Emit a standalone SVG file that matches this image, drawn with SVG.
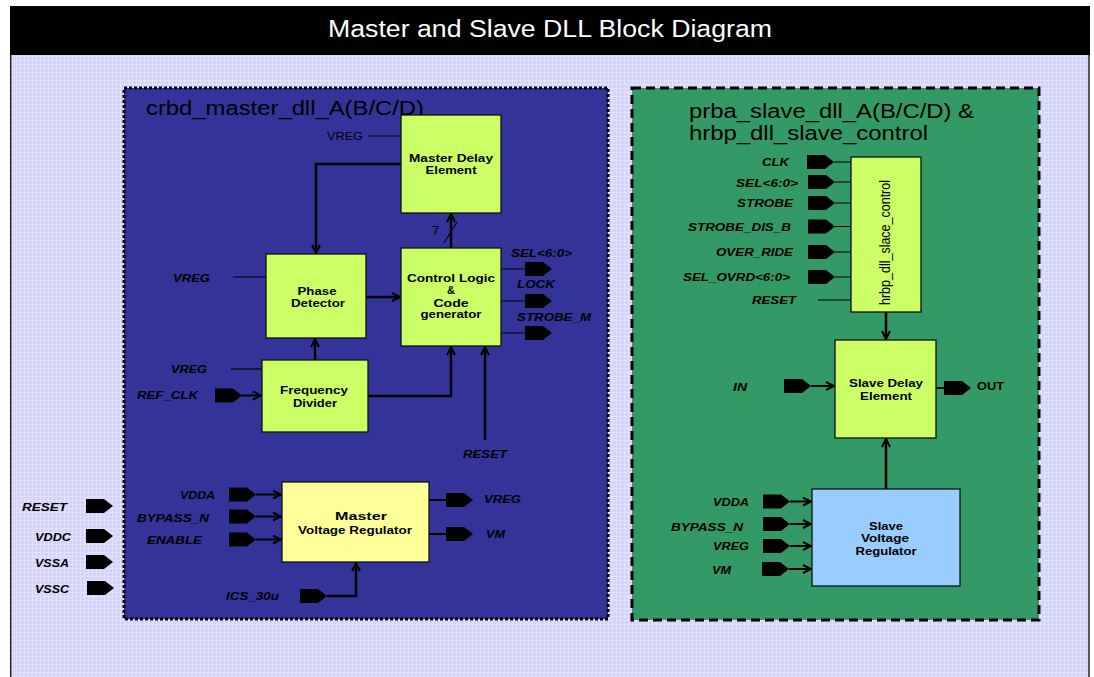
<svg xmlns="http://www.w3.org/2000/svg" width="1094" height="677" viewBox="0 0 1094 677">
  <style>
    text { font-family: "Liberation Sans", Arial, sans-serif; fill: #000; }
    .head { font-size: 23px; fill: #fff; }
    .group-title { font-size: 20px; }
    .pin { font-size: 11px; font-weight: bold; font-style: italic; }
    .pin-up { font-size: 11px; font-weight: bold; }
    .plain { font-size: 11px; }
    .bus { font-size: 13px; }
    .blk { font-size: 11px; font-weight: bold; text-anchor: middle; }
    .vert { font-size: 14px; text-anchor: middle; }
    .box { stroke: #111; stroke-width: 1.3; }
    .green { fill: #ccff66; }
    .yellow { fill: #ffff99; }
    .blue { fill: #99ccff; }
    .wire { fill: none; stroke: #000; stroke-width: 2.5; }
    .thin { fill: none; stroke: #000; stroke-width: 1.2; }
    .feed { fill: none; stroke: #000; stroke-width: 2; }
  </style>
  <defs>
    <pattern id="grid" width="4" height="4" patternUnits="userSpaceOnUse">
      <rect width="4" height="4" fill="#d3d3fd"/>
      <path d="M0,0.5 H4 M0.5,0 V4" stroke="#e2e2ff" stroke-width="1"/>
    </pattern>
    <path id="port" d="M0,0 H18 L27,7 L18,14 H0 Z" fill="#000"/>
    <marker id="arr" viewBox="0 0 10 10" refX="9" refY="5" markerWidth="10" markerHeight="10" markerUnits="userSpaceOnUse" orient="auto">
      <path d="M1,1 L9,5 L1,9" fill="none" stroke="#000" stroke-width="2"/>
    </marker>
  </defs>

  <!-- page -->
  <rect width="1094" height="677" fill="#fff"/>
  <rect x="10" y="55" width="1080" height="622" fill="url(#grid)"/>
  <line x1="10.7" y1="55" x2="10.7" y2="677" stroke="#222" stroke-width="1.5"/>
  <line x1="1089" y1="55" x2="1089" y2="677" stroke="#555" stroke-width="2"/>
  <rect x="10" y="6" width="1080" height="49" fill="#000"/>
  <text class="head" x="328" y="37" textLength="444" lengthAdjust="spacingAndGlyphs">Master and Slave DLL Block Diagram</text>

  <!-- enclosing blocks -->
  <g id="master-dll">
    <rect x="124" y="88" width="484" height="531" fill="#333399" stroke="#000" stroke-width="3" stroke-dasharray="3 2"/>
    <text class="group-title" x="146" y="115" textLength="278" lengthAdjust="spacingAndGlyphs">crbd_master_dll_A(B/C/D)</text>
  </g>
  <g id="slave-dll">
    <rect x="632" y="88" width="407" height="532" fill="#339966" stroke="#000" stroke-width="3" stroke-dasharray="9 5"/>
    <text class="group-title" x="689" y="118" textLength="285" lengthAdjust="spacingAndGlyphs">prba_slave_dll_A(B/C/D) &amp;</text>
    <text class="group-title" x="689" y="140" textLength="239" lengthAdjust="spacingAndGlyphs">hrbp_dll_slave_control</text>
  </g>

  <!-- connectors -->
  <g id="connectors">
    <!-- master loop -->
    <path class="wire" d="M401,164 H316 V253" marker-end="url(#arr)"/>
    <path class="wire" d="M451,248 V214" marker-end="url(#arr)"/>
    <line x1="444" y1="243" x2="457" y2="222" stroke="#000" stroke-width="1.2"/>
    <path class="wire" d="M366,297 H400" marker-end="url(#arr)"/>
    <path class="wire" d="M315,360 V339" marker-end="url(#arr)"/>
    <path class="wire" d="M368,396 H451 V347" marker-end="url(#arr)"/>
    <path class="wire" d="M485,440 V347" marker-end="url(#arr)"/>
    <path class="thin" d="M368,136 H401"/>
    <path class="thin" d="M233,277 H266"/>
    <path class="thin" d="M231,369 H262"/>
    <path class="feed" d="M242,395.5 H261" marker-end="url(#arr)"/>
    <path class="thin" d="M501,269 H525 M501,301 H525 M501,333 H525"/>
    <!-- master regulator -->
    <path class="feed" d="M256,494.5 H281" marker-end="url(#arr)"/>
    <path class="feed" d="M256,516.5 H281" marker-end="url(#arr)"/>
    <path class="feed" d="M256,539.5 H281" marker-end="url(#arr)"/>
    <path class="feed" d="M429,500 H446 M429,534 H446"/>
    <path class="wire" d="M327,596 H356 V563" marker-end="url(#arr)"/>
    <!-- slave -->
    <path class="thin" d="M834,162 H851 M835,182 H851 M835,203 H851 M835,226.5 H851 M835,252 H851 M835,277 H851 M818,300 H851"/>
    <path class="wire" d="M886,312 V339" marker-end="url(#arr)"/>
    <path class="feed" d="M811,386 H834" marker-end="url(#arr)"/>
    <path class="feed" d="M936,388 H944"/>
    <path class="wire" d="M886,489 V439" marker-end="url(#arr)"/>
    <path class="feed" d="M790,501.5 H811" marker-end="url(#arr)"/>
    <path class="feed" d="M790,524 H811" marker-end="url(#arr)"/>
    <path class="feed" d="M790,546 H811" marker-end="url(#arr)"/>
    <path class="feed" d="M789,569 H811" marker-end="url(#arr)"/>
  </g>

  <!-- master blocks -->
  <g id="master-delay">
    <rect class="box green" x="401" y="115" width="100" height="98"/>
    <text class="blk" x="451" y="162" textLength="84" lengthAdjust="spacingAndGlyphs">Master Delay</text>
    <text class="blk" x="451" y="174" textLength="51" lengthAdjust="spacingAndGlyphs">Element</text>
    <text class="plain" x="327" y="140" textLength="36" lengthAdjust="spacingAndGlyphs">VREG</text>
    <text class="bus" x="432" y="235">7</text>
  </g>
  <g id="phase-detector">
    <rect class="box green" x="266" y="254" width="100" height="84"/>
    <text class="blk" x="317" y="295" textLength="39" lengthAdjust="spacingAndGlyphs">Phase</text>
    <text class="blk" x="318" y="307" textLength="54" lengthAdjust="spacingAndGlyphs">Detector</text>
    <text class="pin" x="173" y="282" textLength="37" lengthAdjust="spacingAndGlyphs">VREG</text>
  </g>
  <g id="control-logic">
    <rect class="box green" x="401" y="248" width="100" height="98"/>
    <text class="blk" x="451" y="282" textLength="88" lengthAdjust="spacingAndGlyphs">Control Logic</text>
    <text class="blk" x="451" y="294">&amp;</text>
    <text class="blk" x="451" y="307" textLength="35" lengthAdjust="spacingAndGlyphs">Code</text>
    <text class="blk" x="451" y="318" textLength="61" lengthAdjust="spacingAndGlyphs">generator</text>
    <use href="#port" x="525" y="262"/>
    <use href="#port" x="525" y="294"/>
    <use href="#port" x="525" y="326"/>
    <text class="pin" x="511" y="257" textLength="61" lengthAdjust="spacingAndGlyphs">SEL&lt;6:0&gt;</text>
    <text class="pin" x="517" y="288" textLength="38" lengthAdjust="spacingAndGlyphs">LOCK</text>
    <text class="pin" x="517" y="321" textLength="74" lengthAdjust="spacingAndGlyphs">STROBE_M</text>
    <text class="pin" x="463" y="458" textLength="44" lengthAdjust="spacingAndGlyphs">RESET</text>
  </g>
  <g id="frequency-divider">
    <rect class="box green" x="262" y="360" width="106" height="72"/>
    <text class="blk" x="314" y="394" textLength="68" lengthAdjust="spacingAndGlyphs">Frequency</text>
    <text class="blk" x="315" y="407" textLength="44" lengthAdjust="spacingAndGlyphs">Divider</text>
    <text class="pin" x="171" y="373" textLength="36" lengthAdjust="spacingAndGlyphs">VREG</text>
    <text class="pin" x="137" y="399" textLength="61" lengthAdjust="spacingAndGlyphs">REF_CLK</text>
    <use href="#port" x="215" y="388.5"/>
  </g>
  <g id="master-regulator">
    <rect class="box yellow" x="282" y="482" width="147" height="80"/>
    <text class="blk" x="361" y="520" textLength="52" lengthAdjust="spacingAndGlyphs">Master</text>
    <text class="blk" x="355" y="534" textLength="114" lengthAdjust="spacingAndGlyphs">Voltage Regulator</text>
    <use href="#port" x="229" y="487.5"/>
    <use href="#port" x="229" y="509.5"/>
    <use href="#port" x="229" y="532.5"/>
    <text class="pin" x="180" y="499" textLength="35" lengthAdjust="spacingAndGlyphs">VDDA</text>
    <text class="pin" x="137" y="522" textLength="72" lengthAdjust="spacingAndGlyphs">BYPASS_N</text>
    <text class="pin" x="147" y="544" textLength="55" lengthAdjust="spacingAndGlyphs">ENABLE</text>
    <use href="#port" x="446" y="493"/>
    <use href="#port" x="446" y="527"/>
    <text class="pin" x="484" y="503" textLength="37" lengthAdjust="spacingAndGlyphs">VREG</text>
    <text class="pin" x="486" y="538" textLength="19" lengthAdjust="spacingAndGlyphs">VM</text>
    <use href="#port" x="300" y="589"/>
    <text class="pin" x="226" y="600" textLength="53" lengthAdjust="spacingAndGlyphs">ICS_30u</text>
  </g>

  <!-- supply pins outside the blocks -->
  <g id="supply-pins">
    <use href="#port" x="86" y="499"/>
    <use href="#port" x="86" y="529"/>
    <use href="#port" x="86" y="555"/>
    <use href="#port" x="87" y="581"/>
    <text class="pin" x="22" y="511" textLength="45" lengthAdjust="spacingAndGlyphs">RESET</text>
    <text class="pin" x="35" y="541" textLength="36" lengthAdjust="spacingAndGlyphs">VDDC</text>
    <text class="pin" x="35" y="567" textLength="34" lengthAdjust="spacingAndGlyphs">VSSA</text>
    <text class="pin" x="35" y="593" textLength="34" lengthAdjust="spacingAndGlyphs">VSSC</text>
  </g>

  <!-- slave blocks -->
  <g id="slave-control">
    <rect class="box green" x="851" y="157" width="70" height="155"/>
    <text class="vert" transform="translate(890,242.5) rotate(-90)" textLength="125" lengthAdjust="spacingAndGlyphs">hrbp_dll_slace_control</text>
    <use href="#port" x="807" y="155"/>
    <use href="#port" x="808" y="175"/>
    <use href="#port" x="808" y="196"/>
    <use href="#port" x="808" y="219.5"/>
    <use href="#port" x="808" y="245"/>
    <use href="#port" x="808" y="270"/>
    <text class="pin" x="762" y="166" textLength="27" lengthAdjust="spacingAndGlyphs">CLK</text>
    <text class="pin" x="736" y="187" textLength="62" lengthAdjust="spacingAndGlyphs">SEL&lt;6:0&gt;</text>
    <text class="pin" x="737" y="207" textLength="56" lengthAdjust="spacingAndGlyphs">STROBE</text>
    <text class="pin" x="688" y="231" textLength="103" lengthAdjust="spacingAndGlyphs">STROBE_DIS_B</text>
    <text class="pin" x="716" y="256" textLength="77" lengthAdjust="spacingAndGlyphs">OVER_RIDE</text>
    <text class="pin" x="683" y="281" textLength="107" lengthAdjust="spacingAndGlyphs">SEL_OVRD&lt;6:0&gt;</text>
    <text class="pin" x="752" y="304" textLength="44" lengthAdjust="spacingAndGlyphs">RESET</text>
  </g>
  <g id="slave-delay">
    <rect class="box green" x="835" y="340" width="101" height="98"/>
    <text class="blk" x="886" y="387" textLength="74" lengthAdjust="spacingAndGlyphs">Slave Delay</text>
    <text class="blk" x="886" y="400" textLength="52" lengthAdjust="spacingAndGlyphs">Element</text>
    <use href="#port" x="784" y="379"/>
    <text class="pin" x="733" y="391" textLength="14" lengthAdjust="spacingAndGlyphs">IN</text>
    <use href="#port" x="944" y="381"/>
    <text class="pin-up" x="977" y="390" textLength="27" lengthAdjust="spacingAndGlyphs">OUT</text>
  </g>
  <g id="slave-regulator">
    <rect class="box blue" x="812" y="489" width="148" height="97"/>
    <text class="blk" x="886" y="530" textLength="34" lengthAdjust="spacingAndGlyphs">Slave</text>
    <text class="blk" x="885" y="542" textLength="48" lengthAdjust="spacingAndGlyphs">Voltage</text>
    <text class="blk" x="886" y="555" textLength="61" lengthAdjust="spacingAndGlyphs">Regulator</text>
    <use href="#port" x="763" y="494.5"/>
    <use href="#port" x="763" y="517"/>
    <use href="#port" x="763" y="539"/>
    <use href="#port" x="762" y="562"/>
    <text class="pin" x="713" y="506" textLength="36" lengthAdjust="spacingAndGlyphs">VDDA</text>
    <text class="pin" x="671" y="531" textLength="72" lengthAdjust="spacingAndGlyphs">BYPASS_N</text>
    <text class="pin" x="713" y="550" textLength="36" lengthAdjust="spacingAndGlyphs">VREG</text>
    <text class="pin" x="712" y="574" textLength="19" lengthAdjust="spacingAndGlyphs">VM</text>
  </g>
</svg>
